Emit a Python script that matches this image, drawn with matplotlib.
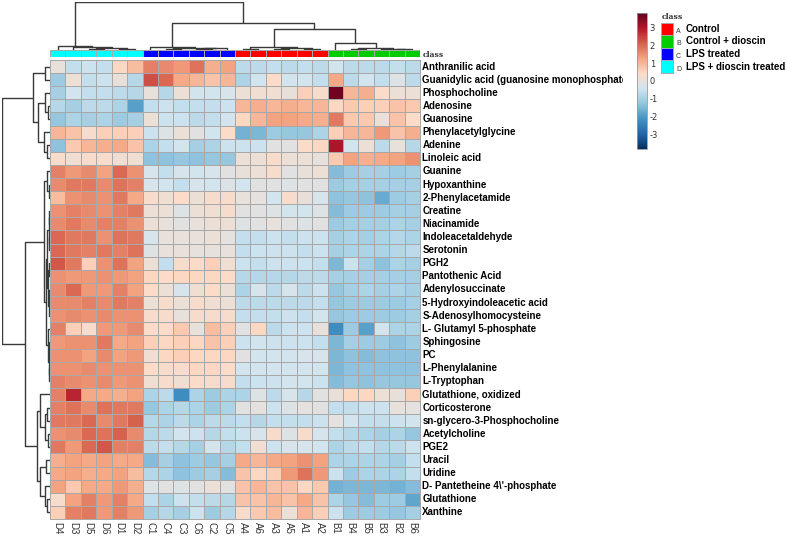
import numpy as np
import matplotlib
matplotlib.use("Agg")
import matplotlib.pyplot as plt
from matplotlib.colors import LinearSegmentedColormap, ListedColormap
from matplotlib.patches import Rectangle
from matplotlib.transforms import Bbox, TransformedBbox

plt.rcParams["axes.unicode_minus"] = False

# ---------------- data ----------------
metabolites = [
    "Anthranilic acid", "Guanidylic acid (guanosine monophosphate)", "Phosphocholine",
    "Adenosine", "Guanosine", "Phenylacetylglycine", "Adenine", "Linoleic acid",
    "Guanine", "Hypoxanthine", "2-Phenylacetamide", "Creatine", "Niacinamide",
    "Indoleacetaldehyde", "Serotonin", "PGH2", "Pantothenic Acid", "Adenylosuccinate",
    "5-Hydroxyindoleacetic acid", "S-Adenosylhomocysteine", "L- Glutamyl 5-phosphate",
    "Sphingosine", "PC", "L-Phenylalanine", "L-Tryptophan", "Glutathione, oxidized",
    "Corticosterone", "sn-glycero-3-Phosphocholine", "Acetylcholine", "PGE2", "Uracil",
    "Uridine", "D- Pantetheine 4\\'-phosphate", "Glutathione", "Xanthine",
]

samples_D = ["D4", "D3", "D5", "D6", "D1", "D2"]
samples_C = ["C1", "C4", "C3", "C6", "C2", "C5"]
samples_A = ["A4", "A6", "A3", "A5", "A1", "A2"]
samples_B = ["B1", "B4", "B5", "B3", "B2", "B6"]

vals_D = [
    [0.0, -0.6, -0.5, -0.6, 0.5, 0.9], [-1.1, 0.1, -0.6, -0.5, 0.05, -0.8],
    [-1.0, -0.4, -0.6, -0.6, -0.7, -0.8], [-0.8, -1.0, -0.7, -0.7, -0.9, -1.9],
    [-1.2, -0.9, -1.0, -0.9, -1.1, -1.0], [1.0, 0.8, 0.3, 0.6, 0.6, 0.6],
    [-1.3, 0.7, 1.0, 1.1, 1.2, 0.8], [0.3, 0.2, 0.3, 0.3, 0.2, 0.2],
    [1.7, 1.4, 1.6, 1.3, 2.0, 1.5], [1.6, 1.8, 1.8, 1.6, 1.9, 1.7],
    [0.9, 1.5, 1.6, 1.5, 1.8, 1.2], [1.5, 1.7, 1.6, 1.5, 1.7, 1.8],
    [1.6, 1.8, 1.6, 1.7, 1.7, 1.5], [2.0, 1.8, 1.8, 1.5, 1.9, 1.8],
    [2.0, 1.8, 1.7, 1.8, 1.7, 1.9], [2.2, 1.8, 0.6, 1.5, 1.9, 1.3],
    [1.5, 1.4, 1.4, 1.5, 1.4, 1.3], [1.6, 2.0, 1.4, 1.4, 1.7, 1.3],
    [1.6, 1.6, 1.7, 1.6, 1.8, 1.7], [1.5, 1.6, 1.5, 1.6, 1.5, 1.5],
    [1.7, 0.6, 0.3, 1.4, 1.4, 1.6], [1.4, 1.5, 1.5, 1.8, 1.2, 1.3],
    [1.5, 1.5, 1.3, 1.6, 1.3, 1.4], [1.5, 1.5, 1.6, 1.5, 1.5, 1.5],
    [1.7, 1.6, 1.5, 1.6, 1.4, 1.5], [1.7, 2.8, 1.2, 1.2, 1.1, 1.3],
    [1.7, 1.9, 1.6, 1.9, 1.8, 1.8], [1.8, 1.8, 2.0, 1.6, 1.8, 2.1],
    [1.5, 1.6, 2.0, 1.9, 2.1, 1.6], [1.8, 1.4, 2.0, 2.2, 1.7, 1.7],
    [1.1, 1.3, 1.2, 1.3, 1.2, 1.2], [1.2, 1.3, 1.1, 1.2, 1.3, 0.9],
    [1.3, 0.7, 1.2, 1.2, 1.4, 1.1], [0.3, 1.3, 1.7, 1.4, 1.7, 1.2],
    [0.6, 1.7, 1.8, 1.4, 1.7, 1.4],
]
vals_C = [
    [1.7, 1.6, 1.4, 1.9, 1.1, 1.3], [2.3, 2.0, 1.2, 1.0, 0.8, 1.0],
    [0.0, -0.8, 0.1, -0.4, -0.4, -0.3], [-0.6, -0.5, -0.6, -0.6, -0.6, -0.5],
    [0.1, -0.5, -0.5, -0.7, -0.6, -0.4], [-0.5, -0.2, 0.1, -0.1, -0.4, 0.4],
    [-0.9, -0.6, -0.4, -1.0, -0.9, -0.5], [-1.3, -1.3, -1.2, -1.3, -1.2, -1.2],
    [-0.3, -0.6, -0.3, -0.4, -0.3, -0.1], [-0.3, -0.4, -0.6, -0.3, -0.4, -0.2],
    [0.3, 0.2, 0.4, 0.1, 0.3, 0.3], [0.1, 0.1, -0.2, 0.1, 0.2, 0.3],
    [0.1, 0.0, -0.1, 0.0, 0.1, 0.1], [-0.3, 0.0, 0.0, 0.0, 0.1, -0.05],
    [-0.2, 0.0, 0.0, 0.0, 0.0, 0.0], [0.1, -0.6, 0.3, 0.4, 0.6, 0.2],
    [0.5, 0.4, 0.5, 0.5, 0.5, 0.4], [0.4, 0.1, -0.3, 0.2, 0.4, 0.1],
    [0.1, 0.3, 0.1, 0.3, 0.2, 0.1], [0.3, 0.3, 0.0, 0.3, 0.3, 0.3],
    [0.4, 0.4, 0.7, 0.0, 0.9, 0.6], [0.6, 0.5, 0.6, 0.5, 0.8, 0.6],
    [0.2, 0.5, 0.6, 0.5, 0.5, 0.5], [0.4, 0.3, 0.3, 0.5, 0.5, 0.4],
    [0.2, 0.3, 0.2, 0.4, 0.3, 0.3], [-0.9, -0.7, -2.2, -0.9, -1.1, -0.9],
    [-1.2, -0.9, -0.8, -0.9, -1.1, -0.9], [-0.8, -0.9, -0.7, -0.9, -0.7, -0.7],
    [-0.8, -0.7, -0.4, -0.5, -0.8, -0.6], [-0.7, -0.6, -0.8, -1.0, -0.4, -0.8],
    [-1.4, -1.0, -1.3, -1.1, -1.2, -1.0], [-0.8, -0.9, -1.3, -1.1, -1.0, -1.4],
    [-0.2, -0.1, -0.2, -0.1, 0.1, -0.1], [-0.6, -0.9, -0.5, -0.6, -0.7, -0.8],
    [-1.0, -0.8, -1.0, -0.5, -1.1, -0.8],
]
vals_A = [
    [-0.7, -0.7, -0.6, -0.7, -0.6, -0.7], [-0.9, -0.4, 0.4, -0.4, -0.4, -0.6],
    [0.1, 0.2, 0.2, 0.05, 0.6, 0.3], [1.0, 1.1, 1.0, 1.1, 1.0, 1.0],
    [0.5, 1.0, 1.3, 1.3, 1.2, 1.1], [-1.6, -1.5, -1.1, -1.2, -1.2, -0.9],
    [-0.5, -0.5, -0.1, -0.1, 0.4, 0.5], [0.1, 0.1, 0.3, 0.1, 0.1, 0.0],
    [0.05, 0.1, 0.3, -0.1, 0.05, 0.1], [-0.4, -0.1, -0.1, -0.2, -0.1, -0.1],
    [0.0, -0.05, -0.4, 0.3, 0.05, -0.3], [-0.1, -0.1, -0.2, -0.4, -0.4, -0.2],
    [-0.2, -0.1, 0.0, -0.1, -0.2, -0.1], [-0.6, -0.6, -0.5, -0.6, -0.5, -0.5],
    [-0.6, -0.5, -0.5, -0.5, -0.6, -0.5], [-0.5, -0.6, -0.5, -0.5, -0.5, -0.6],
    [-0.8, -0.8, -0.8, -0.8, -0.7, -0.7], [-0.9, -0.3, -0.7, -0.3, -0.7, -0.5],
    [-0.7, -0.7, -0.7, -0.7, -0.7, -0.6], [-0.6, -0.6, -0.6, -0.5, -0.6, -0.4],
    [-0.1, 0.5, -0.7, -0.5, -0.5, 0.0], [-0.5, -0.4, -0.5, -0.5, -0.5, -0.6],
    [-0.1, -0.4, -0.4, -0.4, -0.3, -0.3], [-0.4, -0.4, -0.4, -0.4, -0.4, -0.4],
    [-0.6, -0.5, -0.5, -0.4, -0.4, -0.5], [-0.9, -0.2, -0.7, -0.3, -0.8, -0.1],
    [-0.1, -0.05, -0.5, -0.2, -0.05, -0.1], [-0.6, -0.8, -0.6, -0.6, -0.6, -0.5],
    [-0.5, -0.3, 0.3, -0.2, 0.3, -0.3], [-0.6, 0.2, -0.5, -0.3, -0.3, -0.4],
    [1.2, 1.0, 1.2, 1.3, 1.5, 1.3], [0.8, 0.5, 0.6, 1.4, 1.9, 1.4],
    [0.8, 1.0, 0.8, 0.8, 0.5, 0.7], [0.8, 0.8, 1.0, 0.8, 1.2, 0.8],
    [0.3, 0.7, 0.9, 0.1, 1.0, 0.6],
]
vals_B = [
    [-0.4, -0.7, -0.7, -0.7, -0.6, -0.7], [1.2, -0.7, -0.4, -0.6, -0.2, -0.7],
    [3.7, 1.0, 1.1, 0.4, 0.1, 0.1], [0.5, 0.7, 0.6, 0.6, 0.8, 0.7],
    [1.8, 0.7, 0.7, 0.1, 0.8, 0.4], [0.6, 1.0, 1.0, 1.4, 0.8, 1.1],
    [3.0, -0.4, 0.1, -0.7, 0.0, -0.8], [0.7, 1.3, 1.1, 1.2, 1.3, 1.5],
    [-1.4, -1.1, -1.0, -1.0, -1.1, -1.0], [-1.1, -1.0, -1.0, -1.0, -1.0, -1.0],
    [-1.3, -1.2, -1.3, -1.7, -1.1, -1.0], [-1.4, -1.1, -1.1, -1.1, -1.0, -1.0],
    [-1.1, -1.0, -1.0, -1.0, -0.9, -1.0], [-1.0, -0.9, -1.0, -0.9, -0.8, -0.9],
    [-1.0, -0.9, -0.9, -0.9, -0.8, -0.7], [-1.5, -0.5, -1.0, -1.3, -0.9, -1.0],
    [-1.0, -1.0, -1.0, -1.0, -1.0, -1.0], [-1.2, -1.0, -0.9, -1.0, -0.9, -1.0],
    [-1.2, -1.1, -1.1, -1.1, -1.1, -1.0], [-1.2, -1.1, -1.1, -1.1, -1.1, -1.0],
    [-2.2, -1.1, -1.9, -0.4, -0.9, -0.9], [-1.5, -1.0, -1.1, -1.1, -1.3, -1.1],
    [-1.5, -1.3, -1.4, -1.3, -1.3, -1.3], [-1.5, -1.3, -1.3, -1.3, -1.3, -1.3],
    [-1.4, -1.2, -1.3, -1.2, -1.2, -1.2], [0.05, 0.5, 0.5, 0.1, 0.05, 0.6],
    [-0.6, -0.6, -0.5, -0.5, 0.0, -0.05], [-0.05, -0.4, -0.6, -0.6, -0.5, -0.4],
    [-0.6, -0.8, -0.9, -1.0, -0.9, -1.2], [-0.9, -0.7, -0.6, -0.8, -0.7, -0.5],
    [-0.9, -0.9, -0.9, -0.9, -1.0, -0.6], [-0.5, -1.1, -0.9, -0.9, -0.9, -0.6],
    [-1.6, -1.5, -1.5, -1.5, -1.6, -1.4], [-0.9, -1.2, -1.4, -1.1, -1.1, -1.8],
    [-0.5, -1.1, -1.1, -1.1, -1.2, -1.0],
]

# class names and colours (legend)
class_codes = ["A", "B", "C", "D"]
class_names = ["Control", "Control + dioscin", "LPS treated", "LPS + dioscin treated"]
class_colors = ["#FF0000", "#00CC00", "#0000FF", "#00FFFF"]
col_groups = ["D"] * 6 + ["C"] * 6 + ["A"] * 6 + ["B"] * 6

# dendrogram trees: (left, right, merge height); ints are displayed leaf indices
col_tree = (
    (0, (1, ((2, 3, 0.02), (4, 5, 0.025), 0.04), 0.06), 0.085),
    ((6, ((7, 8, 0.03), ((9, 10, 0.02), 11, 0.035), 0.05), 0.065),
     (((12, 13, 0.03), ((14, 15, 0.02), (16, 17, 0.03), 0.04), 0.055),
      (18, ((19, 20, 0.03), (21, (22, 23, 0.02), 0.03), 0.045), 0.14), 0.44),
     0.565),
    1.0)
row_tree = (
    ((0, 1, 0.10), ((2, (3, 4, 0.05), 0.10), (5, (6, 7, 0.07), 0.12), 0.25), 0.35),
    (((8, (9, 10, 0.03), 0.06),
      ((((11, 12, 0.02), (13, 14, 0.02), 0.03),
        ((15, 16, 0.02), ((17, 18, 0.02), 19, 0.03), 0.04), 0.06),
       (20, ((21, 22, 0.02), (23, 24, 0.02), 0.03), 0.05), 0.09), 0.12),
     ((25, ((26, 27, 0.06), (28, 29, 0.05), 0.10), 0.21),
      ((30, 31, 0.08), (32, (33, 34, 0.06), 0.10), 0.22), 0.28),
     0.53),
    1.0)

# ---------------- figure ----------------
W, H = 787, 536
fig = plt.figure(figsize=(W / 100, H / 100), dpi=100)
fig.patch.set_facecolor("white")


def px_axes(x0, y0, x1, y1):
    return fig.add_axes([x0 / W, 1 - y1 / H, (x1 - x0) / W, (y1 - y0) / H])


brewer = ["#053061", "#2166AC", "#4393C3", "#92C5DE", "#D1E5F0",
          "#FDDBC7", "#F4A582", "#D6604D", "#B2182B", "#67001F"]
cmap = LinearSegmentedColormap.from_list("rdbu10", brewer, N=256)
vmin, vmax = -3.8, 3.8

Z = np.hstack([np.array(vals_D), np.array(vals_C), np.array(vals_A), np.array(vals_B)])
samples = samples_D + samples_C + samples_A + samples_B
nrow, ncol = Z.shape

HX0, HX1, HY0, HY1 = 50, 420, 60, 519
ax = px_axes(HX0, HY0, HX1, HY1)
mesh = ax.pcolormesh(np.arange(ncol + 1), np.arange(nrow + 1), Z, cmap=cmap,
                     vmin=vmin, vmax=vmax, edgecolors="#A8A8A8", linewidth=0.7)
ax.set_xlim(0, ncol)
ax.set_ylim(nrow, 0)
ax.set_xticks([])
ax.set_yticks([])
for s in ax.spines.values():
    s.set_edgecolor("#A8A8A8")
    s.set_linewidth(0.7)

label_font = dict(family="Liberation Sans", fontweight="bold", fontsize=7, color="black")
clip = TransformedBbox(Bbox([[0, 0], [623 / W, 1]]), fig.transFigure)
for i, name in enumerate(metabolites):
    t = ax.text(ncol + 0.15, i + 0.5, name, ha="left", va="center", **label_font)
    if i == 1:
        t.set_clip_path(None)
        t.set_clip_box(clip)
        t.set_clip_on(True)

for j, s in enumerate(samples):
    ax.text(j + 0.5, nrow + 0.25, s, ha="center", va="top", rotation=270,
            family="Liberation Sans", fontsize=7, color="#333333")

# class strip
sax = px_axes(HX0, 50, HX1, 57.3)
grp_idx = np.array([[class_codes.index(g) for g in col_groups]])
sax.pcolormesh(np.arange(ncol + 1), [0, 1], grp_idx, cmap=ListedColormap(class_colors),
               vmin=-0.5, vmax=3.5, edgecolors="#A8A8A8", linewidth=0.7)
sax.set_xlim(0, ncol)
sax.set_ylim(0, 1)
sax.axis("off")
sax.text(ncol + 0.15, 0.3, "class", ha="left", va="center", family="DejaVu Serif",
         fontsize=5.5, fontweight="bold", color="#333333")


# dendrograms
def draw_tree(axd, node, orient):
    if isinstance(node, int):
        return node + 0.5, 0.0
    l, r, h = node
    xl, hl = draw_tree(axd, l, orient)
    xr, hr = draw_tree(axd, r, orient)
    xs = [xl, xl, xr, xr]
    hs = [hl, h, h, hr]
    if orient == "top":
        axd.plot(xs, hs, color="#3A3A3A", lw=1.0, solid_capstyle="butt")
    else:
        axd.plot(hs, xs, color="#3A3A3A", lw=1.0, solid_capstyle="butt")
    return (xl + xr) / 2, h


tax = px_axes(HX0, 1.5, HX1, 50)
draw_tree(tax, col_tree, "top")
tax.set_xlim(0, ncol)
tax.set_ylim(0, 1.02)
tax.axis("off")

lax = px_axes(1.5, HY0, HX0, HY1)
draw_tree(lax, row_tree, "left")
lax.set_ylim(nrow, 0)
lax.set_xlim(1.02, 0)
lax.axis("off")

# colorbar
cax = px_axes(637, 13, 647, 149)
cb = fig.colorbar(mesh, cax=cax, ticks=[-3, -2, -1, 0, 1, 2, 3])
cb.outline.set_edgecolor("#999999")
cb.outline.set_linewidth(0.6)
cax.tick_params(length=0, pad=2, labelsize=6, labelcolor="#333333")

# legend
fig.text(662 / W, 1 - 17 / H, "class", ha="left", va="center", family="DejaVu Serif",
         fontsize=5.5, fontweight="bold", color="#333333")
for k, (code, name, colr) in enumerate(zip(class_codes, class_names, class_colors)):
    y0 = 22.7 + k * 12.6
    fig.patches.append(Rectangle((661 / W, 1 - (y0 + 12.6) / H), 12 / W, 12.6 / H,
                                 transform=fig.transFigure, facecolor=colr,
                                 edgecolor="#A8A8A8", linewidth=0.7))
    fig.text(676 / W, 1 - (y0 + 8.5) / H, code, ha="left", va="center",
             family="Liberation Sans", fontsize=5, color="#333333")
    fig.text(686 / W, 1 - (y0 + 6.0) / H, name, ha="left", va="center", **label_font)

fig.savefig("out.png", dpi=100)
